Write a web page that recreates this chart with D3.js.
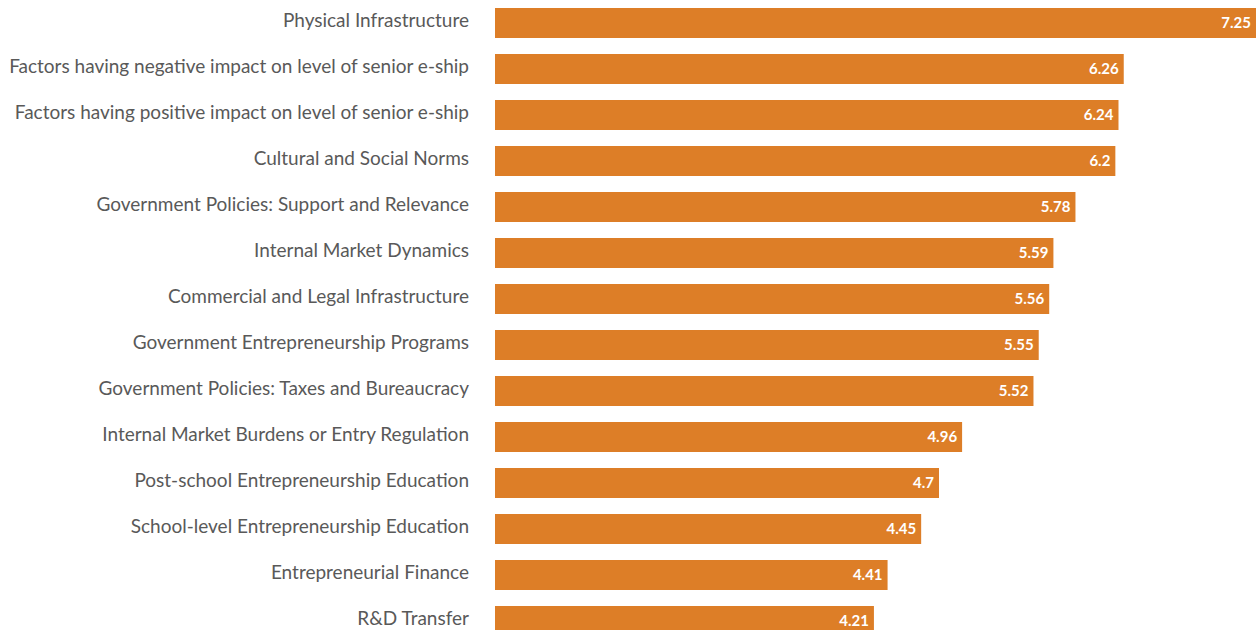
<!DOCTYPE html>
<html>
<head>
<meta charset="utf-8">
<script src="https://cdn.jsdelivr.net/npm/d3@7"></script>
<style>
  html, body { margin: 0; padding: 0; background: #fff; }
  svg { display: block; }
</style>
</head>
<body>
<svg id="chart" width="1256" height="630"></svg>
<script>
// Categories (top to bottom)
const categories = [
  "Physical Infrastructure",
  "Factors having negative impact on level of senior e-ship",
  "Factors having positive impact on level of senior e-ship",
  "Cultural and Social Norms",
  "Government Policies: Support and Relevance",
  "Internal Market Dynamics",
  "Commercial and Legal Infrastructure",
  "Government Entrepreneurship Programs",
  "Government Policies: Taxes and Bureaucracy",
  "Internal Market Burdens or Entry Regulation",
  "Post-school Entrepreneurship Education",
  "School-level Entrepreneurship Education",
  "Entrepreneurial Finance",
  "R&D Transfer"
];
// Printed value labels
const scores = [7.25, 6.26, 6.24, 6.2, 5.78, 5.59, 5.56, 5.55, 5.52, 4.96, 4.7, 4.45, 4.41, 4.21];
// Bar lengths as drawn in the picture (zero-based scale)
const barLengths = [7.25, 5.99, 5.94, 5.91, 5.53, 5.32, 5.28, 5.18, 5.13, 4.45, 4.23, 4.06, 3.74, 3.61];

const svg = d3.select("#chart");
const left = 495, right = 1256;

const x = d3.scaleLinear().domain([0, 7.25]).range([left, right]);

const pIn = 16 / 46;
const yPos = d3.scaleBand().domain(categories)
  .range([0, 46 * categories.length])
  .paddingInner(pIn).paddingOuter(pIn / 2).align(0.5);

const data = categories.map((c, i) => ({ c, v: scores[i], len: barLengths[i] }));

const g = svg.append("g");

g.selectAll("rect.bar").data(data).join("rect")
  .attr("class", "bar")
  .attr("x", x(0))
  .attr("y", d => yPos(d.c))
  .attr("width", d => x(d.len) - x(0))
  .attr("height", yPos.bandwidth())
  .attr("fill", "#DD7E27");

g.selectAll("text.val").data(data).join("text")
  .attr("class", "val")
  .attr("x", d => x(d.len) - 5)
  .attr("y", d => yPos(d.c) + yPos.bandwidth() / 2)
  .attr("dy", "0.3em")
  .attr("text-anchor", "end")
  .attr("fill", "#ffffff")
  .attr("font-family", "Lato, 'Open Sans', sans-serif")
  .attr("font-weight", "bold")
  .attr("font-size", "15px")
  .text(d => d.v);

const axis = d3.axisLeft(yPos).tickSize(0).tickPadding(0);
const ag = svg.append("g").attr("transform", `translate(469,0)`).call(axis);
ag.select(".domain").remove();
ag.selectAll("text")
  .attr("fill", "#595959")
  .attr("font-family", "Lato, 'Open Sans', sans-serif")
  .attr("font-size", "19px")
  .attr("dy", "0.2em");
</script>
</body>
</html>
